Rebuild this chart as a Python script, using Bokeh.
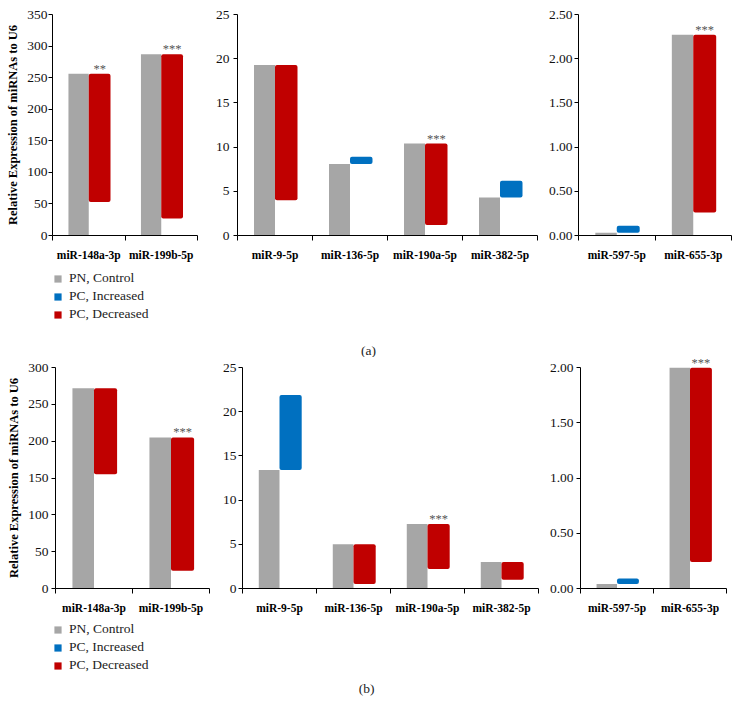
from bokeh.plotting import figure
from bokeh.layouts import row, column
from bokeh.models import (Range1d, FixedTicker, ColumnDataSource, LabelSet, Label,
                          Legend, LegendItem, PrintfTickFormatter)
from bokeh.core.properties import value
from bokeh.embed import file_html
from bokeh.resources import INLINE

SERIF = "Liberation Serif"
GRAY = "#A6A6A6"
BLUE = "#0070C0"
RED = "#C00000"

# ---------------- data ----------------
cats_left = ["miR-148a-3p", "miR-199b-5p"]
cats_mid = ["miR-9-5p", "miR-136-5p", "miR-190a-5p", "miR-382-5p"]
cats_right = ["miR-597-5p", "miR-655-3p"]

# panel (a)
a_left_pn = [256, 287]
a_left_pc = [53, 27]
a_left_sig = ["**", "***"]
a_mid_pn = [19.3, 8.1, 10.4, 4.3]
a_mid_pc = [4.0, 8.9, 1.2, 6.2]
a_mid_sig = ["", "", "***", ""]
a_right_pn = [0.03, 2.27]
a_right_pc = [0.11, 0.26]
a_right_sig = ["", "***"]

# panel (b)
b_left_pn = [272, 205]
b_left_pc = [155, 24]
b_left_sig = ["", "***"]
b_mid_pn = [13.4, 5.0, 7.3, 3.0]
b_mid_pc = [21.9, 0.5, 2.2, 1.0]
b_mid_sig = ["", "", "***", ""]
b_right_pn = [0.04, 2.00]
b_right_pc = [0.09, 0.24]
b_right_sig = ["", "***"]

yticks_a_left = [0, 50, 100, 150, 200, 250, 300, 350]
yticks_a_mid = [0, 5, 10, 15, 20, 25]
yticks_a_right = [0, 0.5, 1.0, 1.5, 2.0, 2.5]
yticks_b_left = [0, 50, 100, 150, 200, 250, 300]
yticks_b_mid = [0, 5, 10, 15, 20, 25]
yticks_b_right = [0, 0.5, 1.0, 1.5, 2.0]

legend_labels = ["PN, Control", "PC, Increased", "PC, Decreased"]
legend_colors = [GRAY, BLUE, RED]
y_title = "Relative Expression of miRNAs to U6"
panel_tags = ["(a)", "(b)"]

NAN = float("nan")


def base_fig(width, height, xr, yr, bl, br, bt, bb, **kw):
    p = figure(width=width, height=height, output_backend="svg", toolbar_location=None,
               x_range=xr, y_range=yr,
               min_border_left=bl, min_border_right=br,
               min_border_top=bt, min_border_bottom=bb, frame_align=False, **kw)
    p.outline_line_color = None
    p.grid.visible = False
    p.background_fill_color = "white"
    p.border_fill_color = "white"
    return p


def panel(cats, pn, pc, sig, yticks, width, height, bl, br, bt, bb,
          decimals=False, ylab=None, ystandoff=1, ytop=None):
    n = len(cats)
    top = yticks[-1] if ytop is None else ytop
    p = base_fig(width, height, Range1d(0, n), Range1d(yticks[0], top), bl, br, bt, bb)

    centers = [i + 0.5 for i in range(n)]
    gray_src = ColumnDataSource(dict(x=[c - 0.14 for c in centers], top=list(pn)))
    inc = [(c, a, b) for c, a, b in zip(centers, pn, pc) if b > a]
    dec = [(c, a, b) for c, a, b in zip(centers, pn, pc) if b < a]
    inc_src = ColumnDataSource(dict(x=[c + 0.15 for c, _, _ in inc],
                                    bottom=[a for _, a, _ in inc],
                                    top=[b for _, _, b in inc]))
    dec_src = ColumnDataSource(dict(x=[c + 0.15 for c, _, _ in dec],
                                    bottom=[b for _, _, b in dec],
                                    top=[a for _, a, _ in dec]))
    p.vbar(x="x", top="top", bottom=0, width=0.28, source=gray_src,
           fill_color=GRAY, line_color=None)
    p.vbar(x="x", top="top", bottom="bottom", width=0.30, source=inc_src,
           fill_color=BLUE, line_color=None, border_radius=2)
    p.vbar(x="x", top="top", bottom="bottom", width=0.30, source=dec_src,
           fill_color=RED, line_color=None, border_radius=2)

    sx = [c + 0.15 for c, s in zip(centers, sig) if s]
    sy = [max(a, b) for a, b, s in zip(pn, pc, sig) if s]
    st = [s for s in sig if s]
    p.add_layout(LabelSet(x="x", y="y", text="t",
                          source=ColumnDataSource(dict(x=sx, y=sy, t=st)),
                          text_align="center", text_baseline="alphabetic",
                          y_offset=1,
                          text_font=value(SERIF), text_font_size="12.5px",
                          text_color="#555555"))

    xa = p.xaxis[0]
    xa.ticker = FixedTicker(ticks=centers, minor_ticks=list(range(n + 1)))
    xa.major_label_overrides = {c: name for c, name in zip(centers, cats)}
    xa.major_tick_out = 0
    xa.major_tick_in = 0
    xa.minor_tick_out = 5
    xa.minor_tick_in = 0
    xa.minor_tick_line_color = "black"
    xa.axis_line_color = "black"
    xa.major_label_standoff = 8
    xa.major_label_text_font = SERIF
    xa.major_label_text_font_style = "bold"
    xa.major_label_text_font_size = "11.5px"
    xa.major_label_text_color = "black"

    ya = p.yaxis[0]
    ya.ticker = FixedTicker(ticks=yticks)
    ya.bounds = (yticks[0], yticks[-1])
    if decimals:
        ya.formatter = PrintfTickFormatter(format="%.2f")
    ya.major_tick_out = 4
    ya.major_tick_in = 0
    ya.major_tick_line_color = "black"
    ya.axis_line_color = "black"
    ya.major_label_standoff = ystandoff
    ya.major_label_text_font = SERIF
    ya.major_label_text_font_size = "13.5px"
    ya.major_label_text_color = "#111111"
    if ylab:
        ya.axis_label = ylab
        ya.axis_label_text_font = SERIF
        ya.axis_label_text_font_style = "bold"
        ya.axis_label_text_font_size = "12.5px"
        ya.axis_label_text_color = "black"
        ya.axis_label_standoff = 4
    return p


def blank(width, height):
    return base_fig(width, height, Range1d(0, 1), Range1d(0, 1), 0, 0, 0, 0,
                    x_axis_location=None, y_axis_location=None)


def legend_fig(width, height, vx, vy):
    p = blank(width, height)
    rends = []
    for c in legend_colors:
        src = ColumnDataSource(dict(x=[NAN], top=[NAN]))
        rends.append(p.vbar(x="x", top="top", width=0.1, source=src,
                            fill_color=c, line_color=None, border_radius=2))
    items = [LegendItem(label=l, renderers=[r]) for l, r in zip(legend_labels, rends)]
    lg = Legend(items=items, location=(vx, vy), orientation="vertical",
                border_line_color=None, background_fill_alpha=0,
                padding=0, margin=0, spacing=2, glyph_width=9, glyph_height=9,
                label_height=16, label_standoff=7, label_text_font=SERIF,
                label_text_font_size="13.5px", label_text_color="#222222")
    p.add_layout(lg)
    return p


def tag_fig(width, height, text, x, y):
    p = blank(width, height)
    p.add_layout(Label(x=x, y=y, x_units="screen", y_units="screen", text=text,
                       text_align="center", text_baseline="middle",
                       text_font=SERIF, text_font_size="13.5px", text_color="#222222"))
    return p


# column 1
A1 = panel(cats_left, a_left_pn, a_left_pc, a_left_sig, yticks_a_left,
           212, 263, 52, 15, 14, 26, ylab=y_title, ystandoff=1)
LA = legend_fig(212, 94, 53, 94 - 7 - 52)
B1 = panel(cats_left, b_left_pn, b_left_pc, b_left_sig, yticks_b_left,
           212, 259, 55, 3, 10, 26, ylab=y_title, ystandoff=3)
LB = legend_fig(212, 90, 53, 90 - 5 - 52)

# column 2
A2 = panel(cats_mid, a_mid_pn, a_mid_pc, a_mid_sig, yticks_a_mid,
           330, 263, 25, 5, 14, 26, ystandoff=4)
TA = tag_fig(330, 94, panel_tags[0], 156, 7)
B2 = panel(cats_mid, b_mid_pn, b_mid_pc, b_mid_sig, yticks_b_mid,
           330, 259, 30, 4, 10, 26, ystandoff=2)
TB = tag_fig(330, 90, panel_tags[1], 154, 18)

# column 3
A3 = panel(cats_right, a_right_pn, a_right_pc, a_right_sig, yticks_a_right,
           193, 263, 36, 4, 14, 26, decimals=True, ystandoff=2)
B3 = panel(cats_right, b_right_pn, b_right_pc, b_right_sig, yticks_b_right,
           193, 353, 38, 9, 91, 26, decimals=True, ystandoff=3, ytop=2.12)

layout = row(column(A1, LA, B1, LB), column(A2, TA, B2, TB), column(A3, B3))

open("out.html", "w").write(file_html(layout, INLINE, "miRNA expression"))
